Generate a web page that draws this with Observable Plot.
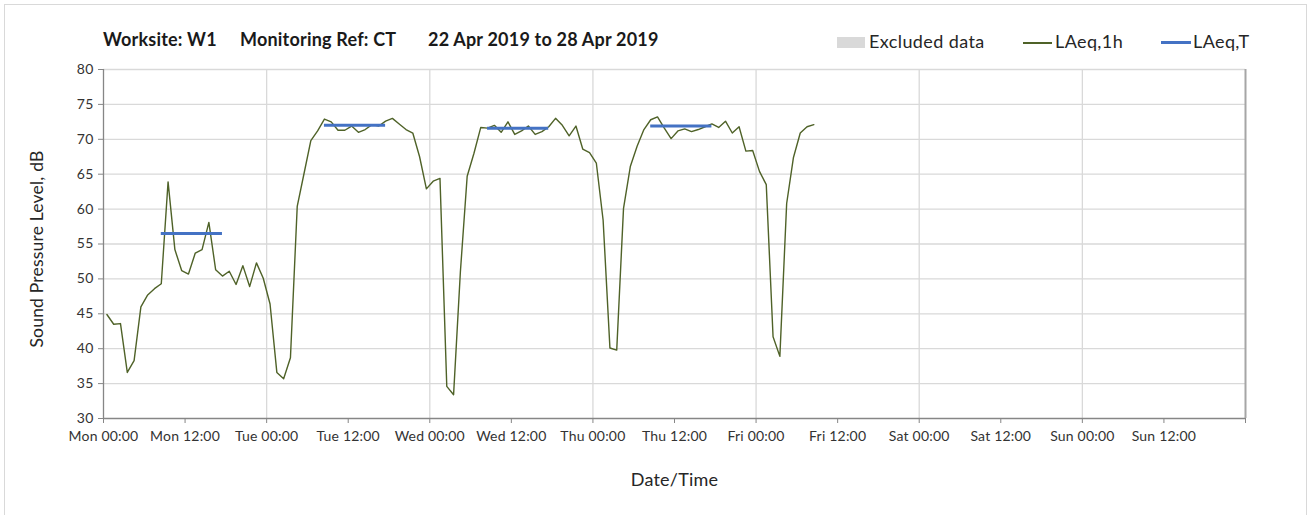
<!DOCTYPE html>
<html>
<head>
<meta charset="utf-8">
<script src="https://cdn.jsdelivr.net/npm/d3@7"></script>
<script src="https://cdn.jsdelivr.net/npm/@observablehq/plot@0.6"></script>
<style>
  html, body { margin: 0; padding: 0; background: #fff; }
  #wrap { position: relative; width: 1309px; height: 515px; overflow: hidden; font-family: Lato, "Open Sans", sans-serif; color: #262626; }
  #border { position: absolute; left: 4px; top: 4px; width: 1303px; height: 520px; border: 1px solid #d9d9d9; box-sizing: border-box; }
  #chart { position: absolute; left: 0; top: 0; }
  .t { position: absolute; white-space: pre; line-height: 1; }
  .title { font-weight: bold; font-size: 18px; top: 30px; color: #1a1a1a; letter-spacing: 0.2px; }
  .leg { font-size: 18px; top: 32px; color: #262626; letter-spacing: 0.4px; }
  .sw { position: absolute; }
</style>
</head>
<body>
<div id="wrap">
  <div id="border"></div>
  <div id="chart"></div>
  <div class="t title" style="left:103px">Worksite: W1</div>
  <div class="t title" style="left:240px">Monitoring Ref: CT</div>
  <div class="t title" style="left:428px">22 Apr 2019 to 28 Apr 2019</div>
  <div class="sw" style="left:837px;top:37px;width:28px;height:11px;background:#d9d9d9"></div>
  <div class="t leg" style="left:869px">Excluded data</div>
  <div class="sw" style="left:1023px;top:42px;width:29px;height:1.5px;background:#4f6228"></div>
  <div class="t leg" style="left:1055px">LAeq,1h</div>
  <div class="sw" style="left:1161px;top:41px;width:30px;height:3px;background:#4472c4"></div>
  <div class="t leg" style="left:1193px">LAeq,T</div>
</div>
<script>
// ---- Data ----
const startTime = "2019-04-22T00:30:00Z"; // first hourly LAeq,1h sample (hourly thereafter)
const laeq1h = [
  // Mon
  44.9, 43.5, 43.6, 36.6, 38.3, 46.0, 47.7, 48.6, 49.3, 63.9, 54.2, 51.2,
  50.7, 53.7, 54.2, 58.1, 51.3, 50.4, 51.1, 49.2, 51.9, 48.9, 52.3, 50.1,
  // Tue
  46.4, 36.6, 35.7, 38.7, 60.4, 65.1, 69.8, 71.2, 72.9, 72.5, 71.3, 71.3,
  71.9, 71.0, 71.4, 72.1, 71.9, 72.6, 73.0, 72.2, 71.4, 70.9, 67.5, 62.9,
  // Wed
  64.0, 64.4, 34.6, 33.4, 51.0, 64.7, 68.0, 71.7, 71.6, 72.0, 71.0, 72.5,
  70.7, 71.2, 71.9, 70.7, 71.1, 71.8, 73.0, 72.0, 70.5, 71.9, 68.6, 68.1,
  // Thu
  66.6, 58.4, 40.1, 39.8, 60.1, 66.1, 69.0, 71.4, 72.8, 73.2, 71.6, 70.1,
  71.2, 71.5, 71.1, 71.4, 71.8, 72.2, 71.7, 72.6, 70.9, 71.8, 68.3, 68.4,
  // Fri
  65.4, 63.5, 41.7, 38.9, 60.8, 67.4, 70.9, 71.8, 72.1
];
const periodStart = ["2019-04-22T08:30:00Z", "2019-04-23T08:30:00Z", "2019-04-24T08:30:00Z", "2019-04-25T08:30:00Z"];
const periodEnd   = ["2019-04-22T17:30:00Z", "2019-04-23T17:30:00Z", "2019-04-24T17:30:00Z", "2019-04-25T17:30:00Z"];
const laeqT = [56.5, 72.0, 71.6, 71.9];
const xDomain = ["2019-04-22T00:00:00Z", "2019-04-29T00:00:00Z"];
const yTicks = [30, 35, 40, 45, 50, 55, 60, 65, 70, 75, 80];
const dayLabels = ["Mon", "Tue", "Wed", "Thu", "Fri", "Sat", "Sun"];
const hourLabels = ["00:00", "12:00"];

// ---- Build ----
const t0 = new Date(startTime);
const series = laeq1h.map((v, i) => ({ time: d3.utcHour.offset(t0, i), value: v }));
const periods = laeqT.map((v, i) => ({ x1: new Date(periodStart[i]), x2: new Date(periodEnd[i]), value: v }));
const d0 = new Date(xDomain[0]), d1 = new Date(xDomain[1]);
const xTicks = [];
dayLabels.forEach((d, di) => hourLabels.forEach((h, hi) => xTicks.push({ date: d3.utcHour.offset(d0, di * 24 + hi * 12), label: d + " " + h })));
const dayGrid = dayLabels.slice(1).map((d, i) => d3.utcDay.offset(d0, i + 1));

const axisColor = "#868686";
const gridColor = "#d9d9d9";

const chart = Plot.plot({
  width: 1309,
  height: 515,
  marginLeft: 103,
  marginRight: 64,
  marginTop: 69,
  marginBottom: 97,
  style: { fontFamily: "Lato, 'Open Sans', sans-serif", fontSize: "14px", color: "#333", background: "transparent", letterSpacing: "0.2px" },
  x: { type: "utc", domain: [d0, d1] },
  y: { domain: [30, 80] },
  marks: [
    Plot.gridY(yTicks.slice(1), { stroke: gridColor, strokeOpacity: 1, strokeWidth: 1.3 }),
    Plot.gridX(dayGrid, { stroke: gridColor, strokeOpacity: 1, strokeWidth: 1.3 }),
    Plot.ruleX([d1], { stroke: "#a6a6a6", strokeWidth: 2, y1: 30, y2: 80 }),
    Plot.ruleY([30], { stroke: axisColor, strokeWidth: 1.3 }),
    Plot.ruleX([d0], { stroke: axisColor, strokeWidth: 1.3 }),
    Plot.axisY({ ticks: yTicks, tickSize: 5, tickPadding: 5, stroke: axisColor, label: null }),
    Plot.axisX({ ticks: xTicks.map(d => d.date).concat([d1]), tickSize: 5, tickPadding: 8, stroke: axisColor, label: null,
      tickFormat: d => { const f = xTicks.find(t => +t.date === +d); return f ? f.label : ""; } }),
    Plot.line(series, { x: "time", y: "value", stroke: "#4f6228", strokeWidth: 1.4 }),
    Plot.ruleY(periods, { y: "value", x1: "x1", x2: "x2", stroke: "#4472c4", strokeWidth: 3 }),
    Plot.text(["Sound Pressure Level, dB"], { frameAnchor: "left", textAnchor: "middle", dx: -66, dy: 5, rotate: -90, fontSize: 17.5, fill: "#262626" }),
    Plot.text(["Date/Time"], { frameAnchor: "bottom", dy: 67, fontSize: 18, fill: "#262626" })
  ]
});
document.getElementById("chart").appendChild(chart);
</script>
</body>
</html>
